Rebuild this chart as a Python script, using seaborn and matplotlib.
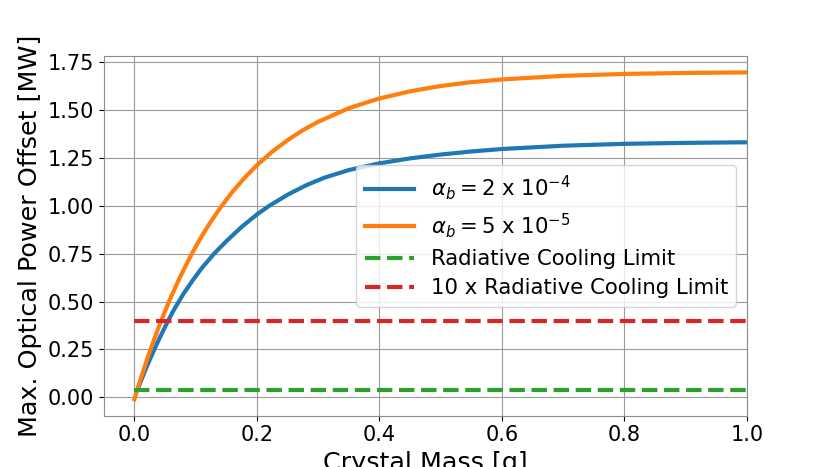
import matplotlib
matplotlib.use("Agg")
import matplotlib.pyplot as plt
import seaborn as sns

# values
mass_blue = [0.005, 0.015, 0.025, 0.035, 0.045, 0.055, 0.065, 0.08, 0.095, 0.11,
             0.13, 0.15, 0.175, 0.20, 0.22, 0.25, 0.28, 0.31, 0.35, 0.40,
             0.45, 0.50, 0.55, 0.60, 0.70, 0.80, 0.90, 1.00]
power_blue = [0.04, 0.12, 0.196, 0.268, 0.335, 0.40, 0.46, 0.54, 0.61, 0.675,
              0.75, 0.815, 0.89, 0.955, 1.0, 1.058, 1.107, 1.147, 1.187, 1.222,
              1.248, 1.268, 1.284, 1.297, 1.314, 1.324, 1.329, 1.332]

mass_orange = [0.0, 0.01, 0.02, 0.03, 0.04, 0.05, 0.06, 0.075, 0.09, 0.105,
               0.12, 0.14, 0.16, 0.18, 0.20, 0.225, 0.25, 0.275, 0.30, 0.35,
               0.40, 0.45, 0.50, 0.55, 0.60, 0.70, 0.80, 0.90, 1.00]
power_orange = [-0.01, 0.094, 0.192, 0.283, 0.369, 0.45, 0.526, 0.631, 0.727, 0.815,
                0.894, 0.989, 1.073, 1.147, 1.212, 1.283, 1.343, 1.395, 1.439, 1.51,
                1.561, 1.598, 1.626, 1.646, 1.66, 1.679, 1.689, 1.694, 1.697]

limit_mass = [0.0, 1.0]
radiative_limit = [0.04, 0.04]
ten_radiative_limit = [0.40, 0.40]

labels = [r'$\alpha_b = 2$ x $10^{-4}$', r'$\alpha_b = 5$ x $10^{-5}$',
          'Radiative Cooling Limit', '10 x Radiative Cooling Limit']

fig, ax = plt.subplots(figsize=(8.3, 4.67), dpi=100)

sns.lineplot(x=mass_blue, y=power_blue, color='#1f77b4', linewidth=3,
             sort=False, errorbar=None, label=labels[0], ax=ax)
sns.lineplot(x=mass_orange, y=power_orange, color='#ff7f0e', linewidth=3,
             sort=False, errorbar=None, label=labels[1], ax=ax)
sns.lineplot(x=limit_mass, y=radiative_limit, color='#2ca02c', linewidth=3,
             linestyle='--', errorbar=None, label=labels[2], ax=ax)
sns.lineplot(x=limit_mass, y=ten_radiative_limit, color='#d62728', linewidth=3,
             linestyle='--', errorbar=None, label=labels[3], ax=ax)

ax.set_xlim(-0.05, 1.0)
ax.grid(True, color='#9a9a9a', linewidth=0.8)
for sp in ax.spines.values():
    sp.set_color('#8c8c8c')

ax.set_xlabel('Crystal Mass [g]', fontsize=18.3)
ax.set_ylabel('Max. Optical Power Offset [MW]', fontsize=18.3)
ax.tick_params(labelsize=15)
ax.legend(loc='center right', fontsize=15.3, handlelength=2.3, labelspacing=0.42)

fig.savefig('out.png', dpi=100)
